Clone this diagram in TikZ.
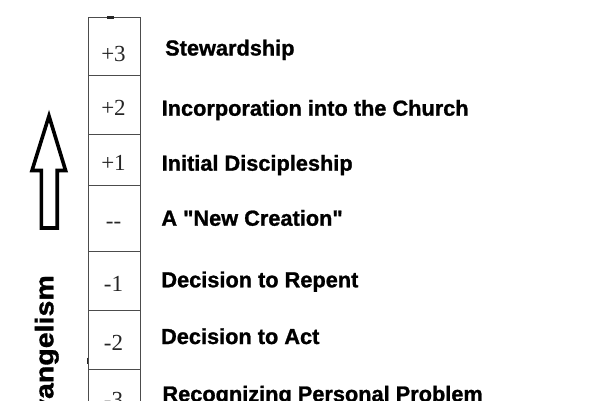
\documentclass[tikz,border=0pt]{standalone}
\usepackage{fontspec}
\setmainfont{Liberation Serif}
\newfontfamily\labfamily{Liberation Sans}[BoldFeatures={FakeBold=1.1}]
\newfontfamily\sidefamily{Liberation Sans Bold}[FakeStretch=1.12,FakeBold=1.3]
\begin{document}
\begin{tikzpicture}[x=1pt,y=-1pt,
  cell/.style={draw=black!70,line width=0.8pt,rectangle,inner sep=0pt,minimum width=51.7pt},
  num/.style={font=\fontsize{23}{26}\selectfont,text=black!85,anchor=base,inner sep=0pt},
  lab/.style={font=\labfamily\bfseries\fontsize{21.75}{24}\selectfont,anchor=base west,inner sep=0pt},
  side/.style={font=\sidefamily\fontsize{25.5}{28}\selectfont,anchor=base east,inner sep=0pt,rotate=90},
  bigarrow/.style={draw=black,line width=3.6pt,line join=miter,miter limit=20}]
\useasboundingbox (0,0) rectangle (600,400);
\clip (0,0) rectangle (600,400);
\fill[white] (0,0) rectangle (600,400);
% cells
\node[cell,minimum height=58pt]   (c3) at (114.15,46)    {};
\node[cell,minimum height=59.3pt] (c2) at (114.15,104.65) {};
\node[cell,minimum height=51pt]   (c1) at (114.15,159.8)  {};
\node[cell,minimum height=65.7pt] (c0) at (114.15,218.15) {};
\node[cell,minimum height=59pt]   (m1) at (114.15,280.5)  {};
\node[cell,minimum height=59pt]   (m2) at (114.15,339.5)  {};
\node[cell,minimum height=61pt]   (m3) at (114.15,399.5)  {};
% small marks
\fill[black!85] (106.7,16) rectangle (114.3,18.6);
\draw[black!85,line width=1.4pt] (87.6,357.5) -- (87.6,364);
% numbers
\node[num] (n3) at (113.5,61)    {+3};
\node[num] (n2) at (113.5,115)   {+2};
\node[num] (n1) at (113.5,170)   {+1};
\node[num] (n0) at (113.5,228)   {-{}-};
\node[num] (k1) at (113.5,291.7) {-1};
\node[num] (k2) at (113.5,350)   {-2};
\node[num] (k3) at (113.5,407)   {-3};
% labels
\node[lab] (l3) at (165,55.5)    {Stewardship};
\node[lab] (l2) at (161.5,115.7) {Incorporation into the Church};
\node[lab] (l1) at (161.5,170.7) {Initial Discipleship};
\node[lab] (l0) at (161.2,225.7) {A "New Creation"};
\node[lab] (j1) at (161.2,287.3) {Decision to Repent};
\node[lab] (j2) at (160.9,344)   {Decision to Act};
\node[lab] (j3) at (162.3,401.5) {Recognizing Personal Problem};
% side text
\node[side] (ev) at (53.3,275) {Evangelism};
% arrow
\draw[bigarrow] (41.3,228) -- (41.3,170.5) -- (32,170.5) -- (49,116) -- (65.6,170.5) -- (57.2,170.5) -- (57.2,228) -- cycle;
\end{tikzpicture}
\end{document}
